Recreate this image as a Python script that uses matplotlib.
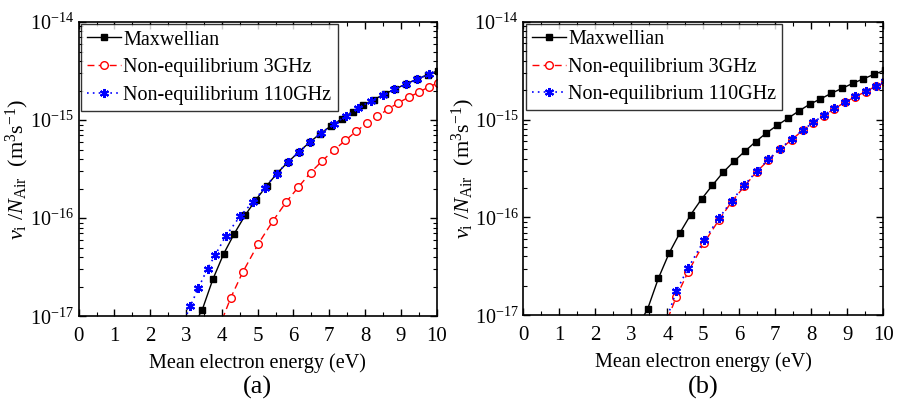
import matplotlib.pyplot as plt
from matplotlib.ticker import MultipleLocator, LogLocator, NullFormatter

plt.rcParams['font.family'] = 'Liberation Serif'
plt.rcParams['mathtext.fontset'] = 'custom'
plt.rcParams['mathtext.rm'] = 'Liberation Serif'
plt.rcParams['mathtext.it'] = 'Liberation Serif:italic'

# Maxwellian (same in both panels)
maxw_x = [3.15, 3.45, 3.75, 4.05, 4.35, 4.65, 4.95, 5.25, 5.55, 5.85, 6.15, 6.45,
          6.75, 7.05, 7.35, 7.65, 7.95, 8.25, 8.55, 8.85, 9.15, 9.45, 9.75, 10.05]
maxw_y = [7.4e-18, 1.16e-17, 2.39e-17, 4.33e-17, 6.98e-17, 1.07e-16, 1.54e-16, 2.13e-16,
          2.89e-16, 3.74e-16, 4.73e-16, 5.93e-16, 7.28e-16, 8.72e-16, 1.03e-15, 1.22e-15,
          1.43e-15, 1.62e-15, 1.85e-15, 2.08e-15, 2.34e-15, 2.61e-15, 2.90e-15, 3.2e-15]

# Non-equilibrium 3GHz (same in both panels)
ghz3_x = [3.9, 4.25, 4.58, 5.02, 5.43, 5.79, 6.14, 6.48, 6.81, 7.13, 7.45, 7.76,
          8.06, 8.34, 8.64, 8.93, 9.22, 9.51, 9.79, 10.05]
ghz3_y = [7.3e-18, 1.55e-17, 2.8e-17, 5.5e-17, 9.4e-17, 1.45e-16, 2.08e-16, 2.92e-16,
          3.86e-16, 4.95e-16, 6.2e-16, 7.75e-16, 9.3e-16, 1.09e-15, 1.29e-15, 1.50e-15,
          1.71e-15, 1.93e-15, 2.19e-15, 2.4e-15]

# Non-equilibrium 110GHz, panel (a)
ghz110a_x = [2.9, 3.12, 3.34, 3.60, 3.81, 4.11, 4.51, 4.86, 5.20, 5.53, 5.85, 6.16,
             6.46, 6.77, 7.12, 7.47, 7.81, 8.18, 8.49, 8.81, 9.14, 9.46, 9.78]
ghz110a_y = [8.2e-18, 1.27e-17, 1.93e-17, 3.06e-17, 4.19e-17, 6.59e-17, 1.05e-16, 1.45e-16,
             2.05e-16, 2.85e-16, 3.75e-16, 4.75e-16, 5.95e-16, 7.35e-16, 9.1e-16, 1.10e-15,
             1.33e-15, 1.58e-15, 1.80e-15, 2.05e-15, 2.33e-15, 2.62e-15, 2.93e-15]

# Non-equilibrium 110GHz, panel (b)
ghz110b_x = ghz3_x
ghz110b_y = [7.6e-18, 1.77e-17, 3.06e-17, 5.83e-17, 9.8e-17, 1.48e-16, 2.14e-16, 2.96e-16,
             3.92e-16, 5.03e-16, 6.28e-16, 7.81e-16, 9.36e-16, 1.11e-15, 1.30e-15, 1.52e-15,
             1.73e-15, 1.95e-15, 2.21e-15, 2.45e-15]

panels = [('(a)', ghz110a_x, ghz110a_y, -0.172), ('(b)', ghz110b_x, ghz110b_y, -0.168)]
rects = [[0.0875, 0.2171, 0.3982, 0.7285], [0.5823, 0.2196, 0.4002, 0.7267]]

fig = plt.figure(figsize=(8.99, 4.04), dpi=100)

for (tag, bx, by, lx), rect in zip(panels, rects):
    ax = fig.add_axes(rect)
    ax.plot(maxw_x, maxw_y, color='black', lw=1.0, ls='-', marker='s', ms=4.8,
            label='Maxwellian')
    ax.plot(ghz3_x, ghz3_y, color='red', lw=1.0, ls=(0, (5, 3)), marker='o', ms=5.5,
            mfc='white', mec='red', mew=1.0, label='Non-equilibrium 3GHz')
    ax.plot(bx, by, color='blue', lw=1.2, ls=(0, (1, 2.5)), marker=(6, 2, 0), ms=6.5,
            mec='blue', mew=1.5, label='Non-equilibrium 110GHz')
    ax.set_yscale('log')
    ax.set_xlim(0, 10)
    ax.set_ylim(1e-17, 1e-14)
    ax.xaxis.set_major_locator(MultipleLocator(1))
    ax.xaxis.set_minor_locator(MultipleLocator(0.5))
    ax.yaxis.set_major_locator(LogLocator(base=10))
    ax.yaxis.set_minor_locator(LogLocator(base=10, subs=range(2, 10)))
    ax.yaxis.set_minor_formatter(NullFormatter())
    ax.tick_params(which='both', direction='in', top=True, right=True)
    ax.tick_params(axis='x', which='major', pad=8, labelsize=15)
    ax.tick_params(axis='y', which='major', pad=3.5, labelsize=14.5)
    ax.tick_params(which='major', length=5, width=1.0)
    ax.tick_params(which='minor', length=3, width=0.8)
    for s in ax.spines.values():
        s.set_linewidth(1.2)
    ax.set_xlabel('Mean electron energy (eV)', fontsize=14.5, labelpad=5)
    ax.set_ylabel(r'$\nu_{\mathrm{i}}$ /$N_{\mathrm{Air}}$  (m$^3$s$^{-1}$)', fontsize=16,
                  va='center')
    ax.yaxis.set_label_coords(lx, 0.5)
    leg = ax.legend(loc='upper left', fontsize=14.5, frameon=True, fancybox=False,
                    edgecolor='black', borderaxespad=0.12, handlelength=1.7,
                    labelspacing=0.42, borderpad=0.3, handletextpad=0.1)
    leg.get_frame().set_linewidth(1.0)
    cx = rect[0] + rect[2] / 2
    fig.text(cx, 0.04, tag, ha='center', va='center', fontsize=19)

fig.savefig('out.png', dpi=100)
